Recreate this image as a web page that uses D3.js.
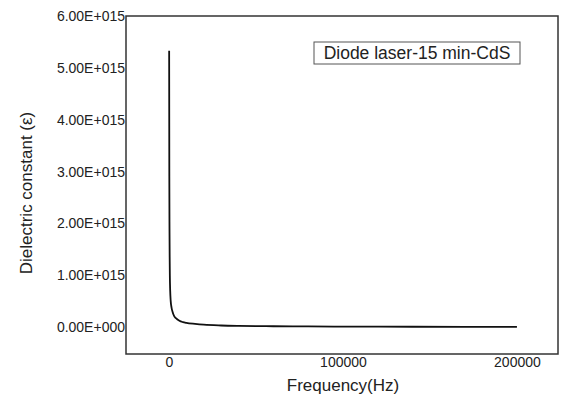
<!DOCTYPE html>
<html><head><meta charset="utf-8">
<script src="https://cdn.jsdelivr.net/npm/d3@7"></script>
<style>html,body{margin:0;padding:0;background:#fff;}svg{display:block;}</style>
</head><body>
<script>
const frequency = [100, 200, 300, 400, 500, 700, 1000, 1500, 2000, 3000, 4000, 6000, 8000, 10000, 15000, 20000, 30000, 40000, 60000, 80000, 100000, 140000, 200000];
const epsilon = [5.33e15, 2.9e15, 1.9e15, 1.35e15, 1.0e15, 0.7e15, 0.5e15, 0.37e15, 0.3e15, 0.21e15, 0.17e15, 0.12e15, 0.095e15, 0.08e15, 0.06e15, 0.045e15, 0.03e15, 0.022e15, 0.015e15, 0.011e15, 0.009e15, 0.006e15, 0.004e15];
const xTicks = [0, 100000, 200000];
const yTicks = [0, 1e15, 2e15, 3e15, 4e15, 5e15, 6e15];
const yTickLabels = ["0.00E+000", "1.00E+015", "2.00E+015", "3.00E+015", "4.00E+015", "5.00E+015", "6.00E+015"];
const legendLabel = "Diode laser-15 min-CdS";

const W = 562, H = 396;
const m = {left: 126, top: 16, right: 4, bottom: 42};
const svg = d3.select("body").append("svg").attr("width", W).attr("height", H);
const x = d3.scaleLinear().domain([-24700, 223600]).range([m.left, W - m.right]);
const y = d3.scaleLinear().domain([-0.52e15, 6e15]).range([H - m.bottom, m.top]);
const font = "'Liberation Sans', Arial, sans-serif";
const txt = "#222";

// x axis
const xa = svg.append("g").attr("transform", `translate(0,${H - m.bottom})`)
  .call(d3.axisBottom(x).tickValues(xTicks).tickSize(0).tickPadding(3).tickFormat(d3.format("d")));
xa.select(".domain").remove();
xa.selectAll("text").attr("font-family", font).attr("font-size", 14).attr("fill", txt);

// y axis
const ya = svg.append("g").attr("transform", `translate(${m.left},0)`)
  .call(d3.axisLeft(y).tickValues(yTicks).tickSize(0).tickPadding(1).tickFormat((d, i) => yTickLabels[i]));
ya.select(".domain").remove();
ya.selectAll("text").attr("font-family", font).attr("font-size", 14).attr("fill", txt);

// frame
svg.append("rect").attr("x", m.left).attr("y", m.top)
  .attr("width", W - m.right - m.left).attr("height", H - m.bottom - m.top)
  .attr("fill", "none").attr("stroke", "#333").attr("stroke-width", 1.5);

// line
const pts = frequency.map((f, i) => [f, epsilon[i]]);
svg.append("path").datum(pts)
  .attr("d", d3.line().x(d => x(d[0])).y(d => y(d[1])).curve(d3.curveMonotoneX))
  .attr("fill", "none").attr("stroke", "#111").attr("stroke-width", 1.8);

// axis titles
svg.append("text").attr("x", 343).attr("y", 391).attr("text-anchor", "middle")
  .attr("font-family", font).attr("font-size", 17).attr("fill", txt).text("Frequency(Hz)");
svg.append("text").attr("transform", "translate(32,193) rotate(-90)").attr("text-anchor", "middle")
  .attr("font-family", font).attr("font-size", 17).attr("fill", txt).text("Dielectric constant (ε)");

// legend
svg.append("rect").attr("x", 314).attr("y", 42).attr("width", 206).attr("height", 22)
  .attr("fill", "#fff").attr("stroke", "#555").attr("stroke-width", 1);
svg.append("text").attr("x", 417).attr("y", 59).attr("text-anchor", "middle")
  .attr("font-family", font).attr("font-size", 17.5).attr("fill", txt).text(legendLabel);
</script>
</body></html>
